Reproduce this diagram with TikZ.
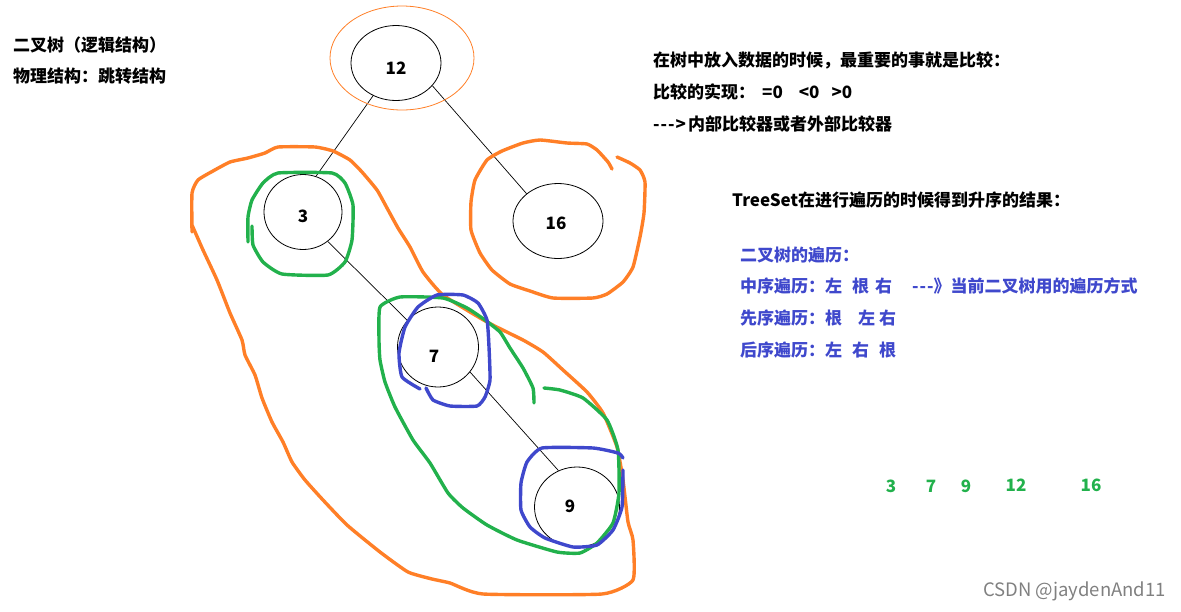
\documentclass[tikz,border=0pt]{standalone}
\usepackage{fontspec}
\setmainfont{Noto Sans CJK SC}
\usetikzlibrary{positioning,shapes.geometric}

\definecolor{paintorange}{HTML}{FF7F27}
\definecolor{paintgreen}{HTML}{22B14C}
\definecolor{paintblue}{HTML}{3F48CC}

\tikzset{
    treenode/.style={draw,ellipse,inner sep=0pt,line width=0.8pt},
    numtext/.style={font=\fontsize{17}{17}\selectfont\bfseries},
    blacktext/.style={font=\fontsize{17}{17}\selectfont\bfseries,anchor=west,inner sep=0pt},
    bluetext/.style={blacktext,text=paintblue},
    greentext/.style={numtext,text=paintgreen},
    pen/.style={line width=3.4pt,line join=round,line cap=round}
}

\begin{document}
\begin{tikzpicture}[x=1pt,y=-1pt,node distance=31pt,on grid]
                \useasboundingbox (0,0) rectangle (1181,611);
                \node[treenode,minimum width=90pt,minimum height=75pt] (n_12) at (396,63) {};
                \node[treenode,minimum width=78pt,minimum height=75pt] (n_3) [below left=149pt and 93pt of n_12] {};
                \node[treenode,minimum width=90pt,minimum height=75pt] (n_16) [below right=158pt and 162pt of n_12] {};
                \node[treenode,minimum width=81pt,minimum height=80pt] (n_7) [below right=135pt and 135pt of n_3] {};
                \node[treenode,minimum width=85pt,minimum height=80pt] (n_9) [below right=160pt and 139pt of n_7] {};
                \node[numtext] (t_12) at (396,68) {12};
                \node[numtext] (t_3) at (303,216) {3};
                \node[numtext] (t_16) at (556,223) {16};
                \node[numtext] (t_7) at (434,356) {7};
                \node[numtext] (t_9) at (570,506) {9};
                \path[draw,line width=0.7pt]
                (n_12.235) edge (n_3.70)
                (n_12.328) edge (n_16.139)
                (n_3.310) edge (n_7.139)
                (n_7.322) edge (n_9.117);
                \node[draw=paintorange,ellipse,line width=0.8pt,inner sep=0pt,minimum width=144pt,minimum height=104pt] (rootring) at (402,58) {};

                \draw[pen,paintorange] plot[smooth,tension=0.3] coordinates {(192,232) (192,193) (198,180) (213,171) (230,162) (248,158) (265,153) (278,147) (315,147) (333,151) (350,160) (362,172) (377,190) (387,208) (398,228) (410,247) (423,272) (443,295) (487,322) (523,340) (543,352) (563,370) (587,392) (603,413) (617,447) (623,480) (628,522) (633,540) (633,580) (602,594) (483,594) (450,583) (432,579) (408,572) (380,552) (347,525) (323,500) (305,480) (292,462) (283,442) (272,422) (262,398) (255,375) (245,355) (242,340) (230,313) (217,280) (203,250) (192,225)};
                \draw[pen,paintorange] plot[smooth,tension=0.3] coordinates {(612,169) (608,162) (597,150) (587,144) (567,143) (540,140) (523,143) (502,151) (487,160) (475,180) (471,202) (471,230) (480,253) (492,270) (510,284) (530,291) (553,298) (593,298) (607,294) (623,282) (633,267) (640,237) (644,213) (645,182) (640,170) (630,163) (617,157)};

                \draw[pen,paintgreen] plot[smooth,tension=0.3] coordinates {(248,242) (248,217) (252,200) (263,183) (278,173) (332,173) (345,183) (353,205) (352,240) (345,262) (328,275) (282,274) (263,262) (253,245) (252,226)};
                \draw[pen,paintgreen] plot[smooth,tension=0.3] coordinates {(534,403) (533,388) (523,368) (510,348) (500,332) (485,320) (467,308) (443,298) (400,297) (380,307) (379,340) (380,360) (385,382) (395,407) (413,440) (430,463) (448,493) (463,508) (487,525) (517,540) (557,552) (580,553) (597,543) (613,523) (619,493) (618,450) (607,420) (583,398) (560,390) (544,388)};

                \draw[pen,paintblue] plot[smooth,tension=0.3] coordinates {(420,389) (402,377) (399,353) (405,327) (418,307) (437,295) (463,295) (478,303) (487,320) (489,347) (490,380) (485,397) (477,406) (450,406) (433,400) (426,388)};
                \draw[pen,paintblue] plot[smooth,tension=0.3] coordinates {(623,458) (618,453) (593,448) (542,448) (527,462) (521,483) (521,510) (530,527) (545,538) (573,547) (597,545) (613,530) (622,507) (623,470)};

                \node[blacktext] (tree_1) at (13,45) {二叉树（逻辑结构）};
                \node[blacktext] (tree_2) [below=31pt of tree_1.west,anchor=west] {物理结构：跳转结构};
                \node[blacktext] (cmp_1) at (653,60) {在树中放入数据的时候，最重要的事就是比较：};
                \node[blacktext] (cmp_2) [below=32pt of cmp_1.west,anchor=west] {比较的实现：\hspace{7pt}=0\hspace{16pt}<0\hspace{12pt}>0};
                \node[blacktext] (cmp_3) [below=32pt of cmp_2.west,anchor=west] {-\kern1pt-\kern1pt-\kern1pt>\hspace{2pt}内部比较器或者外部比较器};
                \node[blacktext] (set_1) at (732,200) {TreeSet在进行遍历的时候得到升序的结果：};
                \node[bluetext] (walk_1) at (740,255) {二叉树的遍历：};
                \node[bluetext] (walk_2) [below=31pt of walk_1.west,anchor=west] {中序遍历：左\hspace{10pt}根\hspace{6pt}右\hspace{20pt}-\kern1pt-\kern1pt-\kern0pt》当前二叉树用的遍历方式};
                \node[bluetext] (walk_3) [below=32pt of walk_2.west,anchor=west] {先序遍历：根\hspace{16pt}左\hspace{4pt}右};
                \node[bluetext] (walk_4) [below=32pt of walk_3.west,anchor=west] {后序遍历：左\hspace{10pt}右\hspace{10pt}根};

                \node[greentext] (res_3) at (891,486) {3};
                \node[greentext] (res_7) at (931,486) {7};
                \node[greentext] (res_9) at (966,486) {9};
                \node[greentext] (res_12) at (1016,485) {12};
                \node[greentext] (res_16) at (1091,485) {16};
                \node[text=black!50,font=\fontsize{18.5}{19}\selectfont,anchor=east,inner sep=0pt] (mark) at (1166,591) {CSDN @jaydenAnd11};
            \end{tikzpicture}
\end{document}
